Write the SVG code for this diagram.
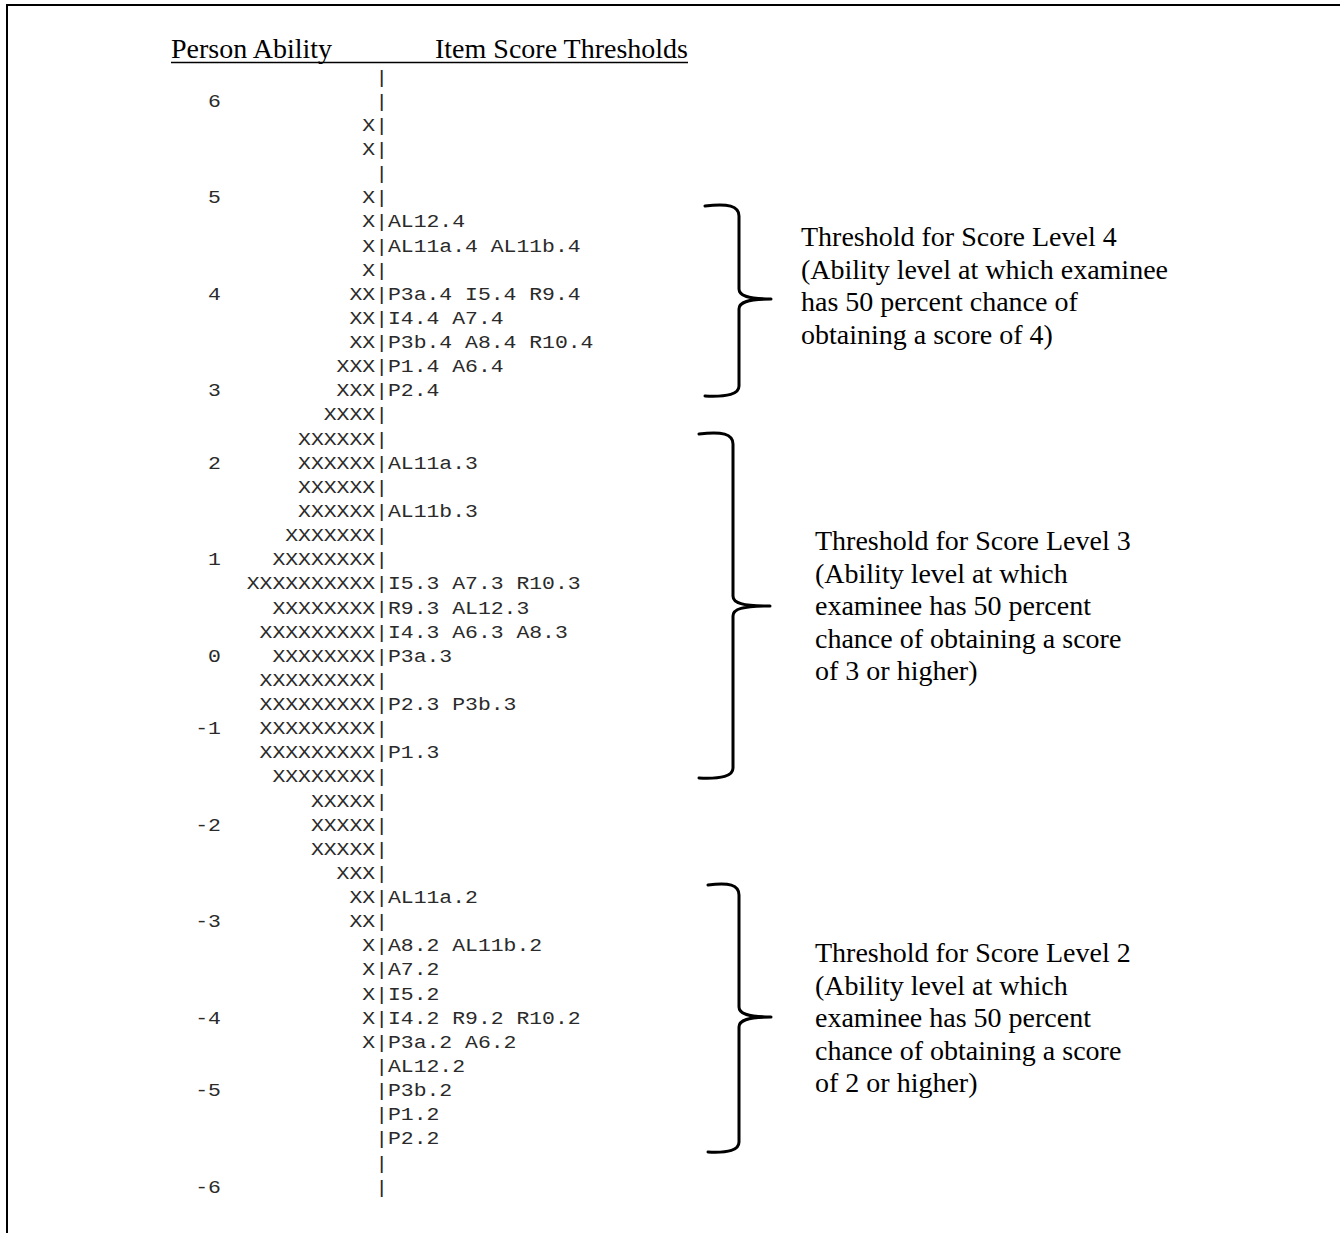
<svg xmlns="http://www.w3.org/2000/svg" width="1340" height="1233" viewBox="0 0 1340 1233">
<style>
.m{font-family:"Liberation Mono","Courier New",monospace;font-size:18px;fill:#2a2a2a}
.e{text-anchor:end}
.t{font-family:"Liberation Serif","Times New Roman",serif;font-size:28px;fill:#000}
.brace{fill:none;stroke:#000;stroke-width:3;stroke-linecap:round;stroke-linejoin:round}
.frame{fill:none;stroke:#000;stroke-width:2}
</style>
<rect x="0" y="0" width="1340" height="1233" fill="#fff"/>
<g id="frame"><path class="frame" d="M7,1233 L7,5 L1340,5"/></g>
<g id="header">
<text class="t" x="171" y="58">Person Ability</text>
<text class="t" x="688" y="58" text-anchor="end">Item Score Thresholds</text>
<line x1="171" y1="62.5" x2="688" y2="62.5" stroke="#000" stroke-width="1.6"/>
</g>
<g id="map" class="m" transform="matrix(1.19 0 0 1 0 0)">
<g class="e">
<text x="185.7" y="106.8">6</text>
<text x="185.7" y="203.4">5</text>
<text x="185.7" y="299.9">4</text>
<text x="185.7" y="396.4">3</text>
<text x="185.7" y="468.8">2</text>
<text x="185.7" y="565.3">1</text>
<text x="185.7" y="661.8">0</text>
<text x="185.7" y="734.2">-1</text>
<text x="185.7" y="830.7">-2</text>
<text x="185.7" y="927.3">-3</text>
<text x="185.7" y="1023.8">-4</text>
<text x="185.7" y="1096.2">-5</text>
<text x="185.7" y="1192.7">-6</text>
</g>
<g class="e">
<text x="326.05" y="82.7">|</text>
<text x="326.05" y="106.8">|</text>
<text x="326.05" y="131.0">X|</text>
<text x="326.05" y="155.1">X|</text>
<text x="326.05" y="179.2">|</text>
<text x="326.05" y="203.4">X|</text>
<text x="326.05" y="227.5">X|</text>
<text x="326.05" y="251.6">X|</text>
<text x="326.05" y="275.7">X|</text>
<text x="326.05" y="299.9">XX|</text>
<text x="326.05" y="324.0">XX|</text>
<text x="326.05" y="348.1">XX|</text>
<text x="326.05" y="372.3">XXX|</text>
<text x="326.05" y="396.4">XXX|</text>
<text x="326.05" y="420.5">XXXX|</text>
<text x="326.05" y="444.7">XXXXXX|</text>
<text x="326.05" y="468.8">XXXXXX|</text>
<text x="326.05" y="492.9">XXXXXX|</text>
<text x="326.05" y="517.0">XXXXXX|</text>
<text x="326.05" y="541.2">XXXXXXX|</text>
<text x="326.05" y="565.3">XXXXXXXX|</text>
<text x="326.05" y="589.4">XXXXXXXXXX|</text>
<text x="326.05" y="613.6">XXXXXXXX|</text>
<text x="326.05" y="637.7">XXXXXXXXX|</text>
<text x="326.05" y="661.8">XXXXXXXX|</text>
<text x="326.05" y="686.0">XXXXXXXXX|</text>
<text x="326.05" y="710.1">XXXXXXXXX|</text>
<text x="326.05" y="734.2">XXXXXXXXX|</text>
<text x="326.05" y="758.3">XXXXXXXXX|</text>
<text x="326.05" y="782.5">XXXXXXXX|</text>
<text x="326.05" y="806.6">XXXXX|</text>
<text x="326.05" y="830.7">XXXXX|</text>
<text x="326.05" y="854.9">XXXXX|</text>
<text x="326.05" y="879.0">XXX|</text>
<text x="326.05" y="903.1">XX|</text>
<text x="326.05" y="927.3">XX|</text>
<text x="326.05" y="951.4">X|</text>
<text x="326.05" y="975.5">X|</text>
<text x="326.05" y="999.6">X|</text>
<text x="326.05" y="1023.8">X|</text>
<text x="326.05" y="1047.9">X|</text>
<text x="326.05" y="1072.0">|</text>
<text x="326.05" y="1096.2">|</text>
<text x="326.05" y="1120.3">|</text>
<text x="326.05" y="1144.4">|</text>
<text x="326.05" y="1168.6">|</text>
<text x="326.05" y="1192.7">|</text>
</g>
<g>
<text x="326.05" y="227.5">AL12.4</text>
<text x="326.05" y="251.6">AL11a.4 AL11b.4</text>
<text x="326.05" y="299.9">P3a.4 I5.4 R9.4</text>
<text x="326.05" y="324.0">I4.4 A7.4</text>
<text x="326.05" y="348.1">P3b.4 A8.4 R10.4</text>
<text x="326.05" y="372.3">P1.4 A6.4</text>
<text x="326.05" y="396.4">P2.4</text>
<text x="326.05" y="468.8">AL11a.3</text>
<text x="326.05" y="517.0">AL11b.3</text>
<text x="326.05" y="589.4">I5.3 A7.3 R10.3</text>
<text x="326.05" y="613.6">R9.3 AL12.3</text>
<text x="326.05" y="637.7">I4.3 A6.3 A8.3</text>
<text x="326.05" y="661.8">P3a.3</text>
<text x="326.05" y="710.1">P2.3 P3b.3</text>
<text x="326.05" y="758.3">P1.3</text>
<text x="326.05" y="903.1">AL11a.2</text>
<text x="326.05" y="951.4">A8.2 AL11b.2</text>
<text x="326.05" y="975.5">A7.2</text>
<text x="326.05" y="999.6">I5.2</text>
<text x="326.05" y="1023.8">I4.2 R9.2 R10.2</text>
<text x="326.05" y="1047.9">P3a.2 A6.2</text>
<text x="326.05" y="1072.0">AL12.2</text>
<text x="326.05" y="1096.2">P3b.2</text>
<text x="326.05" y="1120.3">P1.2</text>
<text x="326.05" y="1144.4">P2.2</text>
</g>
</g>
<g id="connectors">
<path class="brace" d="M705,206 C728,203 739,206 739,216 L739,289 C739,296 748,299 771,299 C748,299 739,302 739,309 L739,386 C739,394 728,397 705,396"/>
<path class="brace" d="M699,434 C722,431 733,434 733,444 L733,596 C733,603 742,606 770,606 C742,606 733,609 733,616 L733,768 C733,776 722,779 699,778"/>
<path class="brace" d="M708,885 C729,882 739,885 739,895 L739,1007 C739,1014 748,1017 771,1017 C748,1017 739,1020 739,1027 L739,1142 C739,1150 729,1153 708,1152"/>
</g>
<g id="note4" class="t">
<text x="801" y="246">Threshold for Score Level 4</text>
<text x="801" y="278.5">(Ability level at which examinee</text>
<text x="801" y="311">has 50 percent chance of</text>
<text x="801" y="343.5">obtaining a score of 4)</text>
</g>
<g id="note3" class="t">
<text x="815" y="550">Threshold for Score Level 3</text>
<text x="815" y="582.5">(Ability level at which</text>
<text x="815" y="615">examinee has 50 percent</text>
<text x="815" y="647.5">chance of obtaining a score</text>
<text x="815" y="680">of 3 or higher)</text>
</g>
<g id="note2" class="t">
<text x="815" y="962">Threshold for Score Level 2</text>
<text x="815" y="994.5">(Ability level at which</text>
<text x="815" y="1027">examinee has 50 percent</text>
<text x="815" y="1059.5">chance of obtaining a score</text>
<text x="815" y="1092">of 2 or higher)</text>
</g>
</svg>
